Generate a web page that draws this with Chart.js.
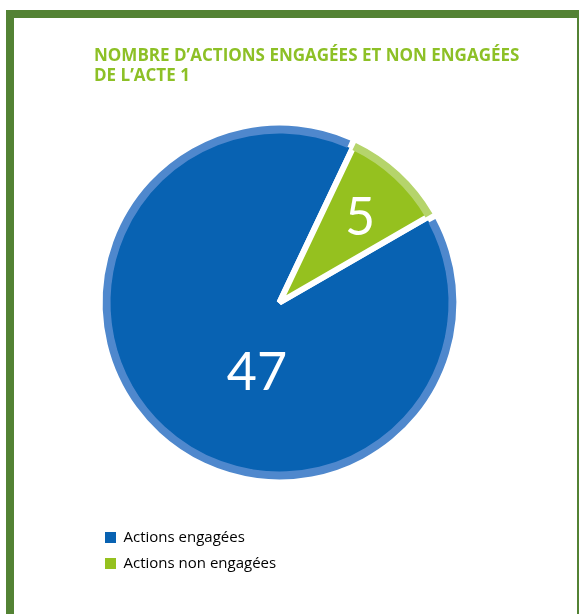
<!DOCTYPE html>
<html>
<head>
<meta charset="utf-8">
<script src="https://cdn.jsdelivr.net/npm/chart.js@4.4.1/dist/chart.umd.min.js"></script>
<style>
  html, body { margin: 0; background: #fff; width: 580px; height: 614px; overflow: hidden; }
  #frame { position: absolute; left: 6px; top: 10px; width: 563px; height: 620px;
           border: solid #538234; border-width: 8px 2px 0 8px; }
  #wrap { position: absolute; left: 14px; top: 18px; width: 563px; height: 596px; }
</style>
</head>
<body>
<div id="frame"></div>
<div id="wrap"><canvas id="actes"></canvas></div>
<script>
// categories and values
const categories = ['Actions engagées', 'Actions non engagées'];
const actionCounts = [47, 5];
const sliceColors = ['#0862b2', '#95c11f'];
const rimColors = ['#4f88cd', '#b5d46b'];
const titleLines = ['NOMBRE D\u2019ACTIONS ENGAGÉES ET NON ENGAGÉES', 'DE L\u2019ACTE 1'];

// where the white value labels sit: angle shift (deg) from slice middle, share of radius
const labelSpots = [{turn: -25, reach: 0.42}, {turn: 1, reach: 0.66}];

const sliceLabels = {
  id: 'sliceLabels',
  afterDatasetsDraw(chart) {
    const meta = chart.getDatasetMeta(1);
    const ctx = chart.ctx;
    const outer = chart.options.radius;
    ctx.save();
    ctx.fillStyle = '#fff';
    ctx.font = '400 52px Lato';
    ctx.textAlign = 'center';
    ctx.textBaseline = 'middle';
    meta.data.forEach((arc, i) => {
      const {x, y, startAngle, endAngle} = arc.getProps(['x', 'y', 'startAngle', 'endAngle'], true);
      const a = (startAngle + endAngle) / 2 + labelSpots[i].turn * Math.PI / 180;
      const r = outer * labelSpots[i].reach;
      ctx.fillText(String(actionCounts[i]), x + Math.cos(a) * r, y + Math.sin(a) * r);
    });
    ctx.restore();
  }
};

new Chart(document.getElementById('actes'), {
  type: 'pie',
  data: {
    labels: categories,
    datasets: [
      {
        // light rim round the pie, drawn on top; spacing opens the gaps in it
        label: 'rim',
        data: actionCounts,
        backgroundColor: rimColors,
        borderWidth: 0,
        spacing: 3.8,
        radius: 175,
        weight: 8,
        order: 0
      },
      {
        label: 'Actions',
        data: actionCounts,
        backgroundColor: sliceColors,
        borderColor: '#ffffff',
        borderWidth: 6,
        weight: 169,
        radius: 181,
        order: 1
      }
    ]
  },
  options: {
    responsive: true,
    maintainAspectRatio: false,
    animation: false,
    events: [],
    radius: 177,
    rotation: 60,
    layout: { padding: { left: 80, right: 30, top: 0, bottom: 33 } },
    plugins: {
      title: {
        display: true,
        text: titleLines,
        align: 'start',
        color: '#8dc026',
        font: { family: 'Open Sans', size: 17, weight: 'bold', lineHeight: '20px' },
        padding: { top: 28, bottom: 0 }
      },
      // empty box on the right so the pie sits left of the title's full width
      subtitle: {
        display: true,
        text: '',
        position: 'right',
        fullSize: false,
        font: { size: 1, lineHeight: 1 },
        padding: { top: 0, bottom: 81 }
      },
      legend: {
        position: 'bottom',
        align: 'start',
        labels: {
          boxWidth: 11,
          boxHeight: 11,
          padding: 11,
          color: '#2d4b77',
          font: { family: 'Open Sans', size: 15 },
          // one entry per row: trailing spaces keep the two entries from sharing a line
          generateLabels: () => categories.map((name, i) => ({
            text: name + '\u2003'.repeat(14),
            fillStyle: sliceColors[i],
            strokeStyle: sliceColors[i],
            lineWidth: 0,
            hidden: false,
            index: i
          }))
        }
      },
      tooltip: { enabled: false }
    }
  },
  plugins: [sliceLabels]
});
</script>
</body>
</html>
